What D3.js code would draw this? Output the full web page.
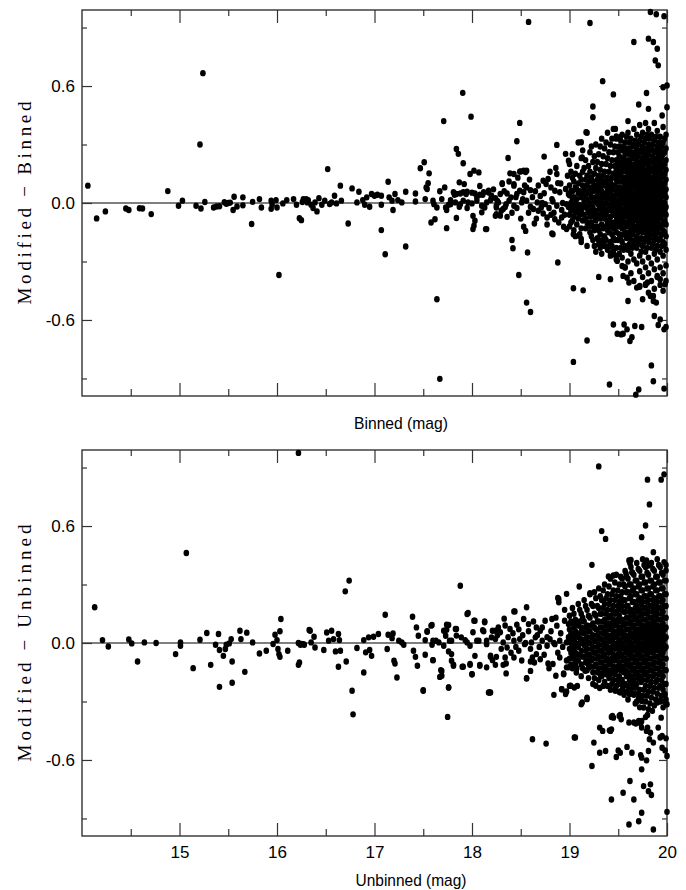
<!DOCTYPE html>
<html>
<head>
<meta charset="utf-8">
<script src="https://cdn.jsdelivr.net/npm/d3@7"></script>
<style>
  html, body { margin: 0; padding: 0; background: #fff; }
  svg { display: block; }
  .tick text { font-family: "Liberation Sans", Arial, sans-serif; font-size: 17px; fill: #000; }
  .tick line { stroke: #333; stroke-width: 1.2; }
</style>
</head>
<body>
<svg id="chart" width="686" height="890"></svg>
<script>
// ---- tick values ----
const xMajor = [15, 16, 17, 18, 19, 20];
const xMinor = [14.5, 15.5, 16.5, 17.5, 18.5, 19.5];
const yMajor = [-0.6, 0, 0.6];
const yMinor = [-0.9, -0.3, 0.3, 0.9];

// ---- top panel: Modified - Binned vs Binned mag ----
const topBright = [
  [14.06,0.089],[14.15,-0.079],[14.24,-0.043],[14.45,-0.028],[14.48,-0.036],[14.59,-0.027],[14.62,-0.028],
  [14.71,-0.057],[14.88,0.061],[14.99,-0.014],[15.03,0.012],[15.17,-0.014],[15.21,0.30],[15.24,0.666],
  [15.22,-0.028],[15.26,0.005],[15.35,-0.023],[15.38,-0.018],[15.41,-0.017],[15.46,0.004],[15.48,-0.004],
  [15.50,0.0],[15.52,0.002],[15.55,-0.036],[15.56,0.032],[15.59,-0.018],[15.65,0.029],[15.65,-0.012],
  [15.74,-0.108],[15.75,0.006],[15.82,0.02],[15.84,-0.023],[15.94,0.012],[15.94,-0.03],[15.95,-0.009],
  [15.99,0.015],[16.0,-0.023],[16.02,-0.369],[16.06,-0.002],[16.10,0.015],[16.17,0.02],[16.20,-0.009],
  [16.23,-0.078],[16.25,-0.088],[16.26,0.005],[16.30,0.02],[16.31,0.003]
];
const topMid = [
  [16.27,0.02],[16.32,0.015],[16.35,-0.009],[16.37,-0.026],[16.39,0.003],[16.41,-0.043],[16.43,0.025],
  [16.46,-0.009],[16.49,0.012],[16.52,0.174],[16.54,-0.005],[16.56,0.003],[16.59,0.037],[16.61,-0.002],
  [16.65,0.089],[16.66,0.012],[16.73,-0.105],[16.77,0.075],[16.82,0.003],[16.84,0.058],[16.88,0.015],
  [16.90,-0.009],[16.92,0.029],[16.95,-0.019],[16.97,0.046],[17.00,0.037],[17.03,0.042],[17.07,0.037],
  [17.07,-0.009],[17.07,-0.139],[17.11,-0.263],[17.14,0.109],[17.15,0.029],[17.18,0.012],[17.19,-0.036],
  [17.21,0.046],[17.24,0.015],[17.28,0.003],[17.32,-0.223],[17.32,0.058],[17.42,0.049],[17.42,0.008],
  [17.47,0.178],[17.51,0.209],[17.52,0.02],[17.53,0.08],[17.55,0.101],[17.54,0.072],[17.56,0.152],
  [17.58,-0.1],[17.62,-0.083],[17.60,0.012],[17.61,-0.006],[17.64,-0.023],[17.64,-0.494],[17.67,-0.902],
  [17.67,0.06],[17.71,0.42],[17.72,0.08],[17.74,-0.129],[17.74,-0.036],[17.76,-0.009],[17.78,0.015],
  [17.82,0.042],[17.84,0.277],[17.86,0.252],[17.87,0.106],[17.88,-0.006],[17.905,0.565],[17.91,0.204],
  [17.92,0.097],[17.94,0.046],[17.96,0.003],[17.98,0.149],[17.99,0.443],[18.02,0.166],[18.05,0.029],
  [18.07,0.157],[18.08,0.087],[18.11,0.042],[18.13,-0.023],[18.15,-0.134],[18.17,0.054],[18.20,0.029],
  [18.24,-0.066],[18.25,-0.014],[18.01,-0.066],[18.03,-0.091],[18.02,-0.117],[18.01,-0.134]
];
const topFaint = [
  [18.49,0.411],[18.46,0.317],[18.87,0.298],[18.37,0.231],[18.74,0.238],[18.96,0.252],[18.99,0.217],
  [18.39,0.152],[18.43,0.149],[18.49,0.161],[18.53,0.166],[18.55,0.159],[18.87,0.149],[18.50,0.162],
  [18.56,0.166],[18.43,0.097],[18.31,0.097],
  [17.81,0.055],[17.84,0.046],[17.88,0.049],[17.91,0.055],[17.95,0.058],[18.00,0.053],[18.03,0.049],
  [18.08,0.042],[18.12,0.055],[18.17,0.063],[18.20,0.037],[18.24,0.025],[18.29,0.046],[18.31,0.101],
  [18.36,0.049],[18.40,0.029],[18.43,0.089],[18.46,0.046],[18.49,0.063],[18.53,0.055],[18.56,0.08],
  [18.60,0.066],[18.65,0.06],[18.70,0.036],[18.73,0.114],[18.76,0.097],[18.78,0.123],[18.81,0.08],
  [18.85,0.063],[18.88,0.102],[18.90,0.055],[18.96,0.072],[18.99,0.046],
  [17.69,0.02],[17.73,-0.023],[17.78,-0.006],[17.83,0.003],[17.87,-0.019],[17.91,0.012],[17.95,-0.026],
  [18.00,-0.002],[18.05,0.012],[18.10,-0.014],[18.15,0.003],[18.19,0.015],[18.25,-0.023],[18.27,0.003],
  [18.32,-0.031],[18.35,-0.006],[18.38,0.012],[18.43,-0.014],[18.46,-0.026],[18.51,0.003],[18.56,0.012],
  [18.60,-0.019],[18.63,-0.031],[18.67,0.003],[18.71,-0.023],[18.75,-0.006],[18.79,-0.026],[18.83,0.008],
  [18.87,-0.014],[18.92,-0.036],[18.97,-0.006],
  [17.84,-0.077],[18.14,-0.134],[18.10,-0.048],[18.25,-0.057],[18.29,-0.065],[18.36,-0.071],[18.41,-0.19],
  [18.42,-0.232],[18.48,-0.369],[18.53,-0.122],[18.55,-0.143],[18.57,-0.254],[18.64,-0.105],[18.68,-0.04],
  [18.73,-0.054],[18.77,-0.074],[18.81,-0.06],[18.83,-0.16],[18.85,-0.083],[18.88,-0.305],[18.92,-0.074],
  [18.94,-0.122],[18.97,-0.134],[18.56,-0.511],[18.60,-0.559],[18.82,-0.156],[18.58,0.929],
  [18.22,0.07],[18.26,0.01],[18.30,-0.04],[18.33,0.06],[18.34,-0.02],[18.38,0.11],[18.41,-0.05],
  [18.45,0.03],[18.47,0.13],[18.50,-0.08],[18.52,0.02],[18.54,0.09],[18.58,-0.05],[18.59,0.12],
  [18.62,0.03],[18.66,-0.08],[18.68,0.09],[18.72,0.0],[18.74,0.05],[18.77,-0.11],[18.80,0.16],
  [18.82,0.02],[18.84,-0.05],[18.86,0.18],[18.89,-0.1],[18.91,0.1],[18.93,0.0],[18.95,-0.06],
  [18.98,0.14],[18.99,-0.02]
];
const topOuter = [
  [19.21,0.923],[19.83,0.98],[19.89,0.968],[19.97,0.958],[19.66,0.826],[19.81,0.843],[19.86,0.826],
  [19.90,0.791],[19.88,0.731],[19.91,0.706],[19.34,0.625],[19.45,0.557],[19.79,0.564],[19.96,0.594],
  [20.0,0.603],[19.71,0.505],[19.81,0.483],[20.0,0.491],[19.24,0.495],[19.24,0.44],[19.95,0.449],
  [19.60,0.42],[19.17,0.363],[19.47,0.38],[19.48,0.341],[19.52,0.337],[19.12,0.312],[19.13,0.234],
  [19.04,-0.815],[19.04,-0.437],[19.14,-0.448],[19.18,-0.705],[19.30,-0.379],[19.41,-0.931],[19.42,-0.391],
  [19.45,-0.623],[19.49,-0.671],[19.53,-0.674],[19.56,-0.623],[19.59,-0.648],[19.55,-0.671],[19.62,-0.708],
  [19.64,-0.688],[19.67,-0.631],[19.74,-0.636],[19.60,-0.503],[19.68,-0.983],[19.71,-0.957],[19.84,-0.833],
  [19.86,-0.914],[19.97,-0.952],[19.97,-0.648],[19.99,-0.636],[19.93,-0.597],[19.91,-0.626],[19.87,-0.58],
  [19.86,-0.503],[19.89,-0.511],[19.75,-0.494],[19.78,-0.417],[19.80,-0.408],[19.69,-0.434],[19.72,-0.425],
  [19.55,-0.374],[19.59,-0.383],[19.61,-0.408],[19.49,-0.297],[19.54,-0.323],[19.57,-0.331],[19.39,-0.232],
  [19.42,-0.254],[19.45,-0.263],[19.48,-0.271],[19.29,-0.185],[19.32,-0.194],[19.35,-0.215],[19.12,-0.185],
  [19.10,-0.168],[19.04,-0.16],[19.90,-0.374],[19.93,-0.391],[19.98,-0.417],[19.83,-0.477],[19.86,-0.477]
];
// dense part, one column per entry: magnitude first, then the differences
const topCore = [
  [19.00, 0.20, 0.09, 0.04, -0.01, -0.06, -0.12],
  [19.03, 0.25, 0.13, 0.06, 0.02, -0.03, -0.09],
  [19.06, 0.15, 0.08, 0.0, -0.05, -0.17],
  [19.09, 0.31, 0.10, 0.05, -0.02, -0.08],
  [19.12, 0.23, 0.12, 0.03, -0.04, -0.13, -0.20],
  [19.15, 0.18, 0.07, 0.01, -0.06],
  [19.18, 0.36, 0.14, 0.09, 0.02, -0.03, -0.10, -0.22],
  [19.21, 0.26, 0.16, 0.05, 0.0, -0.07, -0.15],
  [19.24, 0.21, 0.11, 0.06, -0.02, -0.05, -0.12, -0.19],
  [19.27, 0.30, 0.18, 0.08, 0.03, -0.04, -0.09, -0.25],
  [19.30, 0.25, 0.14, 0.10, 0.04, -0.01, -0.06, -0.14, -0.21],
  [19.33, 0.33, 0.20, 0.12, 0.06, 0.01, -0.05, -0.11, -0.26],
  [19.36, 0.28, 0.16, 0.09, 0.03, -0.03, -0.08, -0.17, -0.22],
  [19.39, 0.36, 0.23, 0.13, 0.07, 0.02, -0.04, -0.10, -0.14, -0.24],
  [19.42, 0.30, 0.19, 0.11, 0.05, -0.01, -0.07, -0.12, -0.20, -0.27],
  [19.45, 0.38, 0.26, 0.15, 0.09, 0.03, -0.02, -0.06, -0.13, -0.18, -0.25],
  [19.48, 0.33, 0.22, 0.17, 0.12, 0.06, 0.01, -0.04, -0.09, -0.15, -0.23, -0.29],
  [19.51, 0.29, 0.24, 0.19, 0.14, 0.08, 0.04, -0.01, -0.05, -0.10, -0.16, -0.26],
  [19.54, 0.35, 0.27, 0.21, 0.16, 0.11, 0.06, 0.02, -0.03, -0.08, -0.13, -0.20, -0.28],
  [19.57, 0.31, 0.25, 0.19, 0.13, 0.09, 0.04, 0.0, -0.04, -0.10, -0.15, -0.22, -0.33],
  [19.60, 0.36, 0.28, 0.22, 0.17, 0.12, 0.07, 0.03, -0.02, -0.06, -0.11, -0.17, -0.24, -0.30],
  [19.63, 0.33, 0.26, 0.20, 0.15, 0.10, 0.06, 0.01, -0.03, -0.08, -0.13, -0.19, -0.26, -0.36],
  [19.66, 0.38, 0.30, 0.24, 0.18, 0.13, 0.08, 0.04, 0.0, -0.05, -0.09, -0.14, -0.21, -0.29, -0.40],
  [19.69, 0.35, 0.28, 0.22, 0.16, 0.11, 0.07, 0.02, -0.02, -0.07, -0.12, -0.17, -0.23, -0.31],
  [19.72, 0.40, 0.32, 0.26, 0.20, 0.15, 0.10, 0.05, 0.01, -0.03, -0.08, -0.13, -0.19, -0.27, -0.35, -0.43],
  [19.75, 0.36, 0.29, 0.23, 0.18, 0.13, 0.08, 0.04, -0.01, -0.05, -0.10, -0.15, -0.22, -0.30, -0.38],
  [19.78, 0.41, 0.33, 0.27, 0.21, 0.16, 0.11, 0.06, 0.02, -0.02, -0.07, -0.12, -0.18, -0.25, -0.33, -0.42],
  [19.81, 0.38, 0.30, 0.25, 0.19, 0.14, 0.09, 0.05, 0.0, -0.04, -0.09, -0.14, -0.20, -0.28, -0.36, -0.46],
  [19.84, 0.35, 0.28, 0.22, 0.17, 0.12, 0.07, 0.03, -0.02, -0.06, -0.11, -0.16, -0.23, -0.31, -0.40],
  [19.87, 0.41, 0.32, 0.26, 0.20, 0.15, 0.10, 0.05, 0.01, -0.03, -0.08, -0.13, -0.19, -0.26, -0.34, -0.44],
  [19.90, 0.37, 0.29, 0.23, 0.18, 0.13, 0.08, 0.04, -0.01, -0.05, -0.10, -0.15, -0.22, -0.29, -0.38],
  [19.93, 0.34, 0.27, 0.21, 0.16, 0.11, 0.06, 0.02, -0.03, -0.07, -0.12, -0.18, -0.25, -0.33, -0.42],
  [19.96, 0.39, 0.31, 0.25, 0.19, 0.14, 0.09, 0.05, 0.0, -0.04, -0.09, -0.14, -0.20, -0.27, -0.36, -0.45],
  [19.99, 0.35, 0.28, 0.22, 0.17, 0.12, 0.07, 0.03, -0.02, -0.06, -0.11, -0.17, -0.24, -0.32, -0.40]
];
const topCoreB = [
  [19.015, 0.16, 0.06, 0.0, -0.04, -0.10],
  [19.045, 0.11, 0.03, -0.02, -0.07, -0.14],
  [19.075, 0.19, 0.07, 0.02, -0.04, -0.11],
  [19.105, 0.14, 0.06, -0.01, -0.06, -0.16],
  [19.135, 0.27, 0.16, 0.09, 0.05, -0.02, -0.09],
  [19.165, 0.22, 0.12, 0.04, -0.02, -0.08, -0.13],
  [19.195, 0.19, 0.11, 0.06, -0.01, -0.05, -0.12],
  [19.225, 0.29, 0.13, 0.08, 0.03, -0.04, -0.10, -0.17],
  [19.255, 0.24, 0.15, 0.09, 0.01, -0.07, -0.14, -0.22],
  [19.285, 0.21, 0.12, 0.06, 0.0, -0.06, -0.12, -0.18],
  [19.315, 0.29, 0.17, 0.08, 0.02, -0.03, -0.08, -0.16, -0.23],
  [19.345, 0.24, 0.14, 0.10, 0.04, -0.01, -0.06, -0.13, -0.19],
  [19.375, 0.31, 0.20, 0.11, 0.05, 0.0, -0.06, -0.12, -0.19],
  [19.405, 0.26, 0.16, 0.09, 0.03, -0.02, -0.09, -0.15, -0.22],
  [19.435, 0.33, 0.22, 0.13, 0.07, 0.01, -0.04, -0.10, -0.16, -0.22],
  [19.465, 0.29, 0.19, 0.14, 0.09, 0.04, -0.01, -0.06, -0.11, -0.19],
  [19.495, 0.26, 0.21, 0.16, 0.11, 0.06, 0.01, -0.03, -0.07, -0.12, -0.19],
  [19.525, 0.32, 0.22, 0.16, 0.11, 0.06, 0.02, -0.03, -0.07, -0.12, -0.18, -0.23],
  [19.555, 0.29, 0.23, 0.18, 0.13, 0.08, 0.04, 0.0, -0.05, -0.10, -0.16, -0.24],
  [19.585, 0.34, 0.27, 0.21, 0.16, 0.11, 0.06, 0.02, -0.02, -0.07, -0.12, -0.18],
  [19.615, 0.31, 0.25, 0.19, 0.14, 0.09, 0.05, 0.0, -0.04, -0.09, -0.15, -0.21],
  [19.645, 0.29, 0.23, 0.17, 0.12, 0.08, 0.03, -0.01, -0.06, -0.11, -0.16, -0.23],
  [19.675, 0.32, 0.26, 0.20, 0.15, 0.10, 0.05, 0.01, -0.03, -0.08, -0.13, -0.19],
  [19.705, 0.30, 0.24, 0.18, 0.13, 0.08, 0.03, -0.01, -0.05, -0.10, -0.15, -0.21],
  [19.735, 0.34, 0.27, 0.21, 0.16, 0.11, 0.06, 0.02, -0.03, -0.07, -0.12, -0.18, -0.25],
  [19.765, 0.31, 0.25, 0.20, 0.14, 0.09, 0.04, 0.0, -0.04, -0.09, -0.14, -0.20],
  [19.795, 0.35, 0.28, 0.23, 0.17, 0.12, 0.07, 0.03, -0.02, -0.06, -0.11, -0.16, -0.23],
  [19.825, 0.33, 0.27, 0.21, 0.16, 0.11, 0.06, 0.01, -0.03, -0.08, -0.13, -0.18],
  [19.855, 0.30, 0.24, 0.18, 0.13, 0.09, 0.04, -0.01, -0.05, -0.10, -0.15, -0.21],
  [19.885, 0.34, 0.27, 0.22, 0.17, 0.12, 0.07, 0.02, -0.02, -0.07, -0.12, -0.17, -0.24],
  [19.915, 0.31, 0.25, 0.20, 0.15, 0.10, 0.05, 0.01, -0.03, -0.08, -0.13, -0.19],
  [19.945, 0.29, 0.23, 0.18, 0.13, 0.08, 0.03, -0.02, -0.06, -0.11, -0.16, -0.22],
  [19.975, 0.33, 0.26, 0.20, 0.15, 0.10, 0.05, 0.0, -0.04, -0.09, -0.15, -0.21]
];

// ---- bottom panel: Modified - Unbinned vs Unbinned mag ----
const botBright = [
  [14.13,0.183],[14.21,0.015],[14.27,-0.018],[14.48,0.018],[14.51,-0.002],[14.57,-0.095],[14.64,0.003],
  [14.76,0.0],[14.96,-0.057],[15.01,0.003],[15.01,-0.014],[15.07,0.462],[15.14,-0.129],[15.21,0.017],
  [15.28,0.051],[15.32,-0.112],[15.37,-0.009],[15.40,0.046],[15.41,-0.036],[15.41,-0.225],[15.45,-0.066],
  [15.47,-0.031],[15.48,-0.009],[15.51,-0.002],[15.53,0.02],[15.54,-0.095],[15.54,-0.204],[15.62,0.063],
  [15.63,0.02],[15.67,-0.148],[15.69,0.053],[15.75,0.003],[15.82,-0.054],[15.89,-0.04],[15.96,-0.005],
  [15.98,0.042],[16.0,0.015],[16.01,-0.031],[16.02,-0.057],[16.03,-0.071],[16.04,0.123],[16.03,0.06],
  [16.11,-0.04],[16.22,0.975],[16.22,0.0],[16.24,-0.009],[16.27,-0.006],[16.22,-0.112],[16.23,-0.1],
  [16.33,0.067]
];
const botMid = [
  [16.25,-0.005],[16.28,-0.009],[16.34,0.063],[16.35,0.003],[16.38,0.032],[16.39,-0.023],[16.48,-0.036],
  [16.51,0.054],[16.53,0.012],[16.56,0.063],[16.58,0.02],[16.60,-0.043],[16.63,0.046],[16.64,0.015],
  [16.65,-0.04],[16.63,-0.122],[16.71,-0.095],[16.70,0.265],[16.74,0.32],[16.77,-0.245],[16.78,-0.366],
  [16.82,-0.026],[16.89,0.015],[16.89,-0.151],[16.91,-0.048],[16.94,0.029],[16.95,-0.036],[16.97,-0.066],
  [16.99,0.032],[17.04,0.046],[17.11,0.145],[17.13,-0.031],[17.14,0.042],[17.18,0.025],[17.19,0.049],
  [17.20,-0.091],[17.21,-0.105],[17.23,-0.177],[17.25,0.012],[17.28,0.003],[17.30,-0.009],[17.39,0.135],
  [17.40,-0.04],[17.42,-0.071],[17.43,0.08],[17.44,-0.117],[17.45,0.037],[17.50,-0.245],[17.52,0.015],
  [17.54,0.06],[17.58,0.089],[17.59,-0.009],[17.60,-0.088],[17.63,0.012],[17.67,-0.174],[17.69,-0.143],
  [17.71,0.063],[17.74,0.094],[17.76,-0.228],[17.75,-0.379],[17.77,0.012],[17.79,-0.057],[17.81,-0.111],
  [17.83,0.072],[17.84,0.038],[17.88,0.294],[17.90,-0.122],[17.93,0.015],[17.95,0.149],[17.98,-0.108],
  [18.0,-0.16],[18.02,0.114],[18.03,-0.066],[18.05,0.012],[18.08,-0.112],[18.11,0.066],[18.13,0.106],
  [18.15,0.012],[18.18,-0.254],[18.19,-0.071],[18.20,0.029],[18.24,0.063],[18.25,-0.071]
];
const botFaint = [
  [18.88,0.231],[18.89,0.209],[17.96,0.154],[18.03,0.114],[18.13,0.111],[18.44,0.162],[18.56,0.183],
  [18.33,0.125],[17.59,0.092],[17.54,0.058],[17.74,0.068],[17.76,0.092],[17.84,0.072],[17.73,0.037],
  [18.01,0.055],[18.12,0.06],[18.21,0.063],[18.27,0.08],[18.29,0.055],[18.39,0.072],[18.46,0.094],
  [18.53,0.123],[18.58,0.097],[18.66,0.08],[18.70,0.063],[18.75,0.114],[18.82,0.123],[18.87,0.089],
  [18.95,0.114],[18.99,0.097],
  [17.60,0.012],[17.66,0.003],[17.71,-0.014],[17.79,0.012],[17.89,0.029],[17.95,0.003],[17.98,-0.014],
  [18.07,0.012],[18.15,-0.006],[18.24,0.02],[18.32,0.003],[18.36,-0.023],[18.43,0.012],[18.49,0.02],
  [18.54,-0.006],[18.61,0.003],[18.65,0.029],[18.72,0.012],[18.77,-0.014],[18.80,0.02],[18.85,-0.006],
  [18.90,0.012],[18.97,0.003],
  [17.52,-0.06],[17.60,-0.088],[17.68,-0.139],[17.69,-0.168],[17.76,-0.043],[17.79,-0.091],[17.81,-0.117],
  [17.91,-0.122],[17.98,-0.112],[18.00,-0.16],[18.08,-0.117],[18.15,-0.125],[18.19,-0.065],[18.21,-0.088],
  [18.24,-0.112],[18.32,-0.112],[18.35,-0.156],[18.43,-0.074],[18.48,-0.04],[18.56,-0.182],[18.60,-0.095],
  [18.62,-0.074],[18.66,-0.057],[18.70,-0.083],[18.78,-0.105],[18.83,-0.108],[18.86,-0.168],[18.90,-0.074],
  [18.94,-0.16],[18.97,-0.125],[19.00,-0.22],[18.92,-0.237],[18.96,-0.254],[18.84,-0.266],[17.50,-0.242],
  [17.76,-0.228],[18.17,-0.254],[18.19,-0.254],[18.35,-0.105],[18.34,-0.074],[18.56,-0.18],[18.60,-0.143],
  [18.62,-0.494],[18.76,-0.516],[18.43,0.162],
  [18.26,0.04],[18.30,-0.03],[18.34,0.09],[18.37,0.03],[18.40,-0.05],[18.42,0.05],[18.45,-0.02],
  [18.48,0.07],[18.51,-0.09],[18.52,0.04],[18.55,0.0],[18.58,0.06],[18.60,-0.03],[18.63,0.11],
  [18.64,-0.1],[18.67,0.04],[18.69,-0.02],[18.72,0.08],[18.74,-0.06],[18.77,0.03],[18.79,-0.13],
  [18.81,0.06],[18.84,0.0],[18.86,0.13],[18.88,-0.05],[18.91,0.05],[18.93,-0.02],[18.95,0.17],
  [18.97,-0.09],[18.99,0.03]
];
const botOuter = [
  [19.30,0.906],[19.80,0.838],[19.94,0.838],[19.97,0.865],[19.82,0.711],[19.78,0.603],[19.74,0.543],
  [19.33,0.574],[19.37,0.534],[19.23,0.401],[19.86,0.466],[19.61,0.423],[19.63,0.426],[19.79,0.423],
  [19.81,0.397],[19.97,0.415],[19.99,0.372],[19.62,0.409],[19.40,0.341],[19.45,0.346],[19.58,0.355],
  [19.64,0.363],[19.10,0.29],[18.89,0.226],[19.21,0.255],[18.97,0.252],
  [18.92,-0.237],[18.97,-0.249],[19.01,-0.22],[19.08,-0.22],[19.12,-0.314],[19.18,-0.288],[19.06,-0.485],
  [19.25,-0.511],[19.23,-0.631],[19.31,-0.563],[19.43,-0.803],[19.55,-0.768],[19.61,-0.931],[19.71,-0.914],
  [19.62,-0.708],[19.66,-0.803],[19.74,-0.871],[19.86,-0.957],[19.81,-0.76],[19.83,-0.725],[19.84,-0.78],
  [20.0,-0.866],[19.37,-0.554],[19.42,-0.451],[19.43,-0.443],[19.48,-0.585],[19.50,-0.551],[19.52,-0.563],
  [19.43,-0.379],[19.45,-0.383],[19.52,-0.369],[19.59,-0.533],[19.64,-0.563],[19.73,-0.575],[19.81,-0.554],
  [19.76,-0.734],[19.74,-0.648],[19.74,-0.588],[19.79,-0.602],[19.66,-0.408],[19.71,-0.40],[19.74,-0.434],
  [19.79,-0.451],[19.82,-0.494],[19.86,-0.511],[19.93,-0.485],[19.95,-0.537],[19.98,-0.551],[20.0,-0.58],
  [19.94,-0.383],[20.0,-0.314],[19.98,-0.263],
  [18.94,-0.156],[18.99,-0.125],[19.06,-0.117],[19.07,-0.151],[19.16,-0.142],[19.20,-0.125],[18.96,-0.262],
  [19.01,-0.219],[19.05,-0.228],[19.13,-0.305],[19.18,-0.28],[19.27,-0.219],[19.31,-0.231],[19.33,-0.17],
  [19.36,-0.151],[19.47,-0.245],[19.52,-0.254],[19.56,-0.266],[19.62,-0.262],[19.66,-0.266],[19.71,-0.28],
  [19.74,-0.297],[19.76,-0.331],[19.80,-0.369],[19.85,-0.348],[19.90,-0.305],[19.93,-0.293],[19.99,-0.314],
  [19.44,-0.374],[19.51,-0.374],[19.53,-0.391],[19.74,-0.40],[19.73,-0.413],[19.68,-0.413],[19.61,-0.408],
  [19.80,-0.434],[19.83,-0.46],[19.91,-0.434],[19.31,-0.434],[19.34,-0.451],[19.41,-0.448],[19.05,-0.485],
  [19.95,-0.477],[19.99,-0.489]
];
const botCore = [
  [19.00, 0.14, 0.07, 0.02, -0.03, -0.08],
  [19.03, 0.18, 0.10, 0.04, -0.01, -0.06, -0.13],
  [19.06, 0.12, 0.06, 0.0, -0.05, -0.10],
  [19.09, 0.20, 0.09, 0.03, -0.02, -0.09],
  [19.12, 0.15, 0.08, 0.02, -0.04, -0.11, -0.17],
  [19.15, 0.22, 0.11, 0.05, -0.01, -0.07],
  [19.18, 0.17, 0.09, 0.03, -0.03, -0.09, -0.14],
  [19.21, 0.25, 0.13, 0.06, 0.0, -0.06, -0.12],
  [19.24, 0.19, 0.10, 0.04, -0.02, -0.08, -0.15, -0.21],
  [19.27, 0.23, 0.14, 0.07, 0.01, -0.05, -0.11],
  [19.30, 0.28, 0.18, 0.11, 0.05, -0.01, -0.07, -0.13, -0.19],
  [19.33, 0.22, 0.15, 0.08, 0.02, -0.04, -0.10, -0.16],
  [19.36, 0.30, 0.20, 0.12, 0.06, 0.0, -0.06, -0.12, -0.20],
  [19.39, 0.25, 0.17, 0.10, 0.04, -0.02, -0.08, -0.14, -0.22],
  [19.42, 0.33, 0.22, 0.14, 0.08, 0.02, -0.04, -0.10, -0.16, -0.24],
  [19.45, 0.27, 0.19, 0.12, 0.06, 0.0, -0.06, -0.12, -0.19],
  [19.48, 0.35, 0.24, 0.16, 0.10, 0.04, -0.02, -0.08, -0.14, -0.22],
  [19.51, 0.30, 0.21, 0.14, 0.08, 0.02, -0.04, -0.10, -0.17, -0.25],
  [19.54, 0.33, 0.26, 0.19, 0.12, 0.06, 0.0, -0.06, -0.12, -0.19, -0.24],
  [19.57, 0.37, 0.29, 0.22, 0.16, 0.10, 0.04, -0.02, -0.08, -0.14, -0.21],
  [19.60, 0.33, 0.26, 0.19, 0.13, 0.07, 0.02, -0.03, -0.09, -0.15, -0.22, -0.29],
  [19.63, 0.39, 0.30, 0.24, 0.17, 0.11, 0.05, 0.0, -0.05, -0.11, -0.17, -0.24],
  [19.66, 0.35, 0.28, 0.21, 0.15, 0.09, 0.04, -0.02, -0.07, -0.13, -0.19, -0.26],
  [19.69, 0.41, 0.32, 0.25, 0.19, 0.13, 0.07, 0.02, -0.03, -0.09, -0.15, -0.21, -0.30],
  [19.72, 0.37, 0.30, 0.23, 0.17, 0.11, 0.06, 0.0, -0.05, -0.11, -0.17, -0.24, -0.33],
  [19.75, 0.43, 0.34, 0.27, 0.21, 0.15, 0.09, 0.04, -0.01, -0.07, -0.13, -0.19, -0.27],
  [19.78, 0.39, 0.31, 0.24, 0.18, 0.12, 0.07, 0.02, -0.03, -0.09, -0.15, -0.22, -0.30, -0.38],
  [19.81, 0.35, 0.28, 0.22, 0.16, 0.10, 0.05, 0.0, -0.05, -0.11, -0.17, -0.25, -0.34],
  [19.84, 0.41, 0.32, 0.25, 0.19, 0.13, 0.08, 0.03, -0.02, -0.08, -0.14, -0.20, -0.28],
  [19.87, 0.37, 0.30, 0.23, 0.17, 0.11, 0.06, 0.01, -0.04, -0.10, -0.16, -0.23, -0.32],
  [19.90, 0.43, 0.34, 0.27, 0.21, 0.15, 0.09, 0.04, -0.01, -0.07, -0.13, -0.19, -0.26],
  [19.93, 0.39, 0.31, 0.24, 0.18, 0.12, 0.07, 0.02, -0.03, -0.09, -0.15, -0.22, -0.30],
  [19.96, 0.35, 0.28, 0.22, 0.16, 0.10, 0.05, 0.0, -0.05, -0.11, -0.17, -0.24, -0.33],
  [19.99, 0.40, 0.32, 0.25, 0.19, 0.13, 0.08, 0.03, -0.02, -0.08, -0.14, -0.21, -0.29]
];
const botCoreB = [
  [19.015, 0.11, 0.05, 0.0, -0.05, -0.11],
  [19.045, 0.15, 0.08, 0.02, -0.03, -0.08],
  [19.075, 0.10, 0.04, -0.01, -0.06, -0.13],
  [19.105, 0.17, 0.11, 0.05, 0.0, -0.06],
  [19.135, 0.13, 0.06, 0.0, -0.07, -0.13],
  [19.165, 0.19, 0.08, 0.02, -0.04, -0.10],
  [19.195, 0.14, 0.06, 0.0, -0.06, -0.11, -0.18],
  [19.225, 0.20, 0.09, 0.03, -0.03, -0.09],
  [19.255, 0.26, 0.15, 0.08, 0.01, -0.05, -0.12, -0.18],
  [19.285, 0.19, 0.11, 0.04, -0.02, -0.08, -0.15],
  [19.315, 0.24, 0.15, 0.08, 0.02, -0.04, -0.10, -0.16],
  [19.345, 0.27, 0.18, 0.11, 0.05, -0.01, -0.07, -0.13, -0.22],
  [19.375, 0.23, 0.15, 0.09, 0.03, -0.03, -0.09, -0.16],
  [19.405, 0.29, 0.20, 0.13, 0.07, 0.01, -0.05, -0.11, -0.18],
  [19.435, 0.25, 0.17, 0.10, 0.04, -0.02, -0.08, -0.14, -0.21],
  [19.465, 0.31, 0.22, 0.15, 0.09, 0.03, -0.03, -0.09, -0.16, -0.24],
  [19.495, 0.27, 0.19, 0.12, 0.06, 0.0, -0.06, -0.12, -0.19],
  [19.525, 0.34, 0.24, 0.17, 0.11, 0.05, -0.01, -0.07, -0.14, -0.21],
  [19.555, 0.30, 0.22, 0.16, 0.09, 0.03, -0.03, -0.09, -0.15, -0.22],
  [19.585, 0.34, 0.26, 0.19, 0.13, 0.07, 0.01, -0.05, -0.11, -0.17, -0.25],
  [19.615, 0.30, 0.23, 0.16, 0.10, 0.04, -0.01, -0.06, -0.12, -0.19, -0.26],
  [19.645, 0.36, 0.27, 0.21, 0.14, 0.08, 0.03, -0.03, -0.08, -0.14, -0.21],
  [19.675, 0.32, 0.25, 0.18, 0.12, 0.06, 0.01, -0.04, -0.10, -0.16, -0.23, -0.31],
  [19.705, 0.38, 0.29, 0.22, 0.16, 0.10, 0.04, -0.01, -0.06, -0.12, -0.18, -0.26],
  [19.735, 0.34, 0.27, 0.20, 0.14, 0.08, 0.03, -0.03, -0.08, -0.14, -0.20, -0.29],
  [19.765, 0.40, 0.31, 0.24, 0.18, 0.12, 0.06, 0.01, -0.04, -0.10, -0.16, -0.24],
  [19.795, 0.36, 0.28, 0.21, 0.15, 0.09, 0.04, -0.01, -0.06, -0.12, -0.19, -0.27],
  [19.825, 0.32, 0.25, 0.19, 0.13, 0.07, 0.02, -0.03, -0.08, -0.14, -0.22, -0.31],
  [19.855, 0.38, 0.29, 0.22, 0.16, 0.10, 0.05, 0.0, -0.05, -0.11, -0.17, -0.25],
  [19.885, 0.34, 0.27, 0.20, 0.14, 0.08, 0.03, -0.02, -0.07, -0.13, -0.20, -0.29],
  [19.915, 0.40, 0.31, 0.24, 0.18, 0.12, 0.06, 0.01, -0.04, -0.10, -0.16, -0.23],
  [19.945, 0.36, 0.28, 0.21, 0.15, 0.09, 0.04, -0.01, -0.06, -0.12, -0.19, -0.27],
  [19.975, 0.32, 0.25, 0.19, 0.13, 0.07, 0.02, -0.03, -0.08, -0.14, -0.21, -0.30]
];

// columns -> [mag, diff] pairs
const unfold = cols => cols.flatMap(c => c.slice(1).map(v => [c[0], v]));

const panels = [
  {
    top: 10, bottom: 396,
    points: [...topBright, ...topMid, ...topFaint, ...unfold(topCore), ...unfold(topCoreB), ...topOuter],
    yLabel: "Modified\u2009\u2212\u2009Binned", yLabelLen: 203,
    xLabel: "Binned (mag)", xLabelLen: 94, xLabelX: 401, xLabelY: 429,
    tickLabels: false
  },
  {
    top: 450, bottom: 836,
    points: [...botBright, ...botMid, ...botFaint, ...unfold(botCore), ...unfold(botCoreB), ...botOuter],
    yLabel: "Modified\u2009\u2212\u2009Unbinned", yLabelLen: 237,
    xLabel: "Unbinned (mag)", xLabelLen: 111, xLabelX: 411, xLabelY: 886,
    tickLabels: true
  }
];

const marginLeft = 82;
const marginRight = 19;
const width = 686;

const svg = d3.select("#chart");

const x = d3.scaleLinear().domain([14, 20]).range([marginLeft, width - marginRight]);

panels.forEach(p => {
  const y = d3.scaleLinear().domain([-0.99, 0.99]).range([p.bottom, p.top]);
  const g = svg.append("g");

  // zero line
  g.append("line")
    .attr("x1", x(14)).attr("x2", x(20))
    .attr("y1", y(0)).attr("y2", y(0))
    .attr("stroke", "#000").attr("stroke-width", 1.1);

  // ticks, all pointing inward
  const fmt = d => d.toFixed(1);
  g.append("g").attr("transform", `translate(0,${p.bottom})`)
    .call(d3.axisBottom(x).tickValues(xMajor).tickSize(-13).tickPadding(10)
      .tickFormat(p.tickLabels ? d3.format("d") : ""))
    .call(a => a.select(".domain").remove());
  g.append("g").attr("transform", `translate(0,${p.bottom})`)
    .call(d3.axisBottom(x).tickValues(xMinor).tickSize(-7).tickFormat(""))
    .call(a => a.select(".domain").remove());
  g.append("g").attr("transform", `translate(0,${p.top})`)
    .call(d3.axisTop(x).tickValues(xMajor).tickSize(-13).tickFormat(""))
    .call(a => a.select(".domain").remove());
  g.append("g").attr("transform", `translate(0,${p.top})`)
    .call(d3.axisTop(x).tickValues(xMinor).tickSize(-6).tickFormat(""))
    .call(a => a.select(".domain").remove());
  g.append("g").attr("transform", `translate(${marginLeft},0)`)
    .call(d3.axisLeft(y).tickValues(yMajor).tickSize(-10).tickPadding(7).tickFormat(fmt))
    .call(a => a.select(".domain").remove());
  g.append("g").attr("transform", `translate(${marginLeft},0)`)
    .call(d3.axisLeft(y).tickValues(yMinor).tickSize(-5).tickFormat(""))
    .call(a => a.select(".domain").remove());
  g.append("g").attr("transform", `translate(${width - marginRight},0)`)
    .call(d3.axisRight(y).tickValues(yMajor).tickSize(-8).tickFormat(""))
    .call(a => a.select(".domain").remove());
  g.append("g").attr("transform", `translate(${width - marginRight},0)`)
    .call(d3.axisRight(y).tickValues(yMinor).tickSize(-5).tickFormat(""))
    .call(a => a.select(".domain").remove());

  // frame
  g.append("rect")
    .attr("x", x(14)).attr("y", p.top)
    .attr("width", x(20) - x(14)).attr("height", p.bottom - p.top)
    .attr("fill", "none").attr("stroke", "#333").attr("stroke-width", 1.4);

  // points
  g.append("g").selectAll("ellipse")
    .data(p.points)
    .enter().append("ellipse")
    .attr("cx", d => x(d[0]))
    .attr("cy", d => y(d[1]))
    .attr("rx", 2.8).attr("ry", 3.2)
    .attr("fill", "#000");

  // labels
  g.append("text")
    .attr("transform", `translate(31,${(p.top + p.bottom) / 2}) rotate(-90)`)
    .attr("text-anchor", "middle")
    .attr("textLength", p.yLabelLen)
    .attr("lengthAdjust", "spacing")
    .style("font-family", "'Liberation Serif', 'DejaVu Serif', serif")
    .style("font-size", "19px")
    .text(p.yLabel);

  g.append("text")
    .attr("x", p.xLabelX).attr("y", p.xLabelY)
    .attr("text-anchor", "middle")
    .attr("textLength", p.xLabelLen)
    .attr("lengthAdjust", "spacingAndGlyphs")
    .style("font-family", "'Liberation Sans', Arial, sans-serif")
    .style("font-size", "17px")
    .text(p.xLabel);
});
</script>
</body>
</html>
